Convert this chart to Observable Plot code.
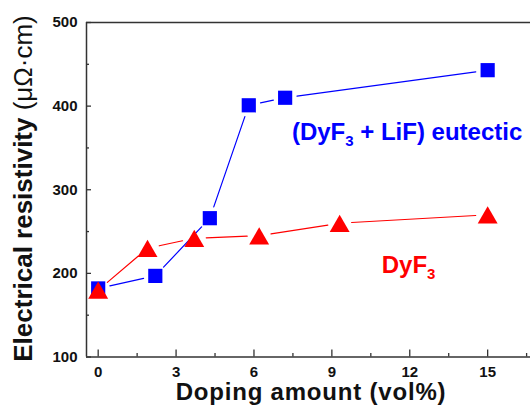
<!DOCTYPE html>
<html><head><meta charset="utf-8">
<script src="https://cdn.jsdelivr.net/npm/d3@7"></script>
<script src="https://cdn.jsdelivr.net/npm/@observablehq/plot@0.6"></script>
<style>body{margin:0;background:#fff}</style>
</head><body><div id="chart"></div>
<script>
// Data
const eutecticX = [0, 2.2, 4.3, 5.8, 7.2, 15];
const eutecticY = [182, 197, 266, 401, 410, 443];
const dyf3X = [0, 1.9, 3.7, 6.2, 9.3, 15];
const dyf3Y = [180, 230, 242, 245, 260, 270];
const xTicks = [0, 3, 6, 9, 12, 15];
const xMinor = [1.5, 4.5, 7.5, 10.5, 13.5, 16.5];
const yTicks = [100, 200, 300, 400, 500];
const yMinor = [150, 250, 350, 450];

const eutectic = eutecticX.map((x, i) => ({x, y: eutecticY[i]}));
const dyf3 = dyf3X.map((x, i) => ({x, y: dyf3Y[i]}));

const W = 530, H = 405, mL = 86, mT = 22, mB = 48.5;
const innerH = H - mT - mB, innerW = W - mL;
const BLUE = "#0000ff", RED = "#ff0000", AX = "#333";

const segOpts = (color) => ({
  x1: d => d[0].x, y1: d => d[0].y, x2: d => d[1].x, y2: d => d[1].y,
  stroke: color, strokeWidth: 1.2, headLength: 0, bend: 0, insetStart: 12, insetEnd: 12
});

const plot = Plot.plot({
  width: W, height: H,
  marginLeft: mL, marginRight: 0, marginTop: mT, marginBottom: mB,
  style: {fontFamily: "'Liberation Sans', Arial, sans-serif", background: "white", color: "#111"},
  x: {domain: [-0.45, 16.65]},
  y: {domain: [100, 500]},
  marks: [
    Plot.axisX(xTicks, {tickSize: 0, tickPadding: 9, fontSize: 15, fontWeight: "bold", label: null}),
    Plot.axisY(yTicks, {tickSize: 0, tickPadding: 9, fontSize: 15, fontWeight: "bold", label: null}),
    Plot.tickX(xTicks, {x: d => d, insetTop: innerH - 7, stroke: AX, strokeWidth: 1.3}),
    Plot.tickX(xMinor, {x: d => d, insetTop: innerH - 3.5, stroke: AX, strokeWidth: 1.3}),
    Plot.tickY(yTicks, {y: d => d, insetRight: innerW - 5, stroke: AX, strokeWidth: 1.3}),
    Plot.tickY(yMinor, {y: d => d, insetRight: innerW - 3, stroke: AX, strokeWidth: 1.3}),
    Plot.ruleY([100], {stroke: AX, strokeWidth: 1.5}),
    Plot.ruleY([500], {stroke: AX, strokeWidth: 1.5}),
    Plot.ruleX([-0.45], {stroke: AX, strokeWidth: 1.5}),
    Plot.arrow(d3.pairs(eutectic), segOpts(BLUE)),
    Plot.arrow(d3.pairs(dyf3), segOpts(RED)),
    Plot.dot(eutectic, {x: "x", y: "y", symbol: "square", r: 8, fill: BLUE}),
    Plot.dot(dyf3, {x: "x", y: "y", symbol: "triangle", r: 7.4, fill: RED, dy: 3})
  ]
});
document.getElementById("chart").appendChild(plot);

// Annotations with subscripts
const sx = plot.scale("x"), sy = plot.scale("y");
const svg = d3.select(plot);
const FONT = "'Liberation Sans', Arial, sans-serif";
function label(parts, x, y, color) {
  const t = svg.append("text")
    .attr("x", sx.apply(x)).attr("y", sy.apply(y)).attr("text-anchor", "start")
    .attr("fill", color).attr("font-family", FONT).attr("font-weight", "bold").attr("font-size", 24);
  parts.forEach(([s, sub], i) => {
    const ts = t.append("tspan").text(s);
    if (sub) ts.attr("font-size", 15).attr("dy", 6);
    else if (i > 0) ts.attr("dy", -6);
  });
}
label([["(DyF"], ["3", true], [" + LiF) eutectic"]], 7.48, 359, BLUE);
label([["DyF"], ["3", true]], 10.94, 200, RED);

// Axis titles
const yt = svg.append("text")
  .attr("transform", "translate(32,188.5) rotate(-90)")
  .attr("text-anchor", "middle").attr("font-family", FONT).attr("font-size", 26).attr("fill", "#111");
yt.append("tspan").attr("font-weight", "bold").text("Electrical resistivity ");
yt.append("tspan").attr("font-weight", "normal").text("(\u03bc\u03a9\u00b7cm)");

svg.append("text")
  .attr("x", 311).attr("y", 400).attr("text-anchor", "middle")
  .attr("font-family", FONT).attr("font-weight", "bold").attr("font-size", 24)
  .attr("letter-spacing", 0.8).attr("fill", "#111")
  .text("Doping amount (vol%)");
</script>
</body></html>
